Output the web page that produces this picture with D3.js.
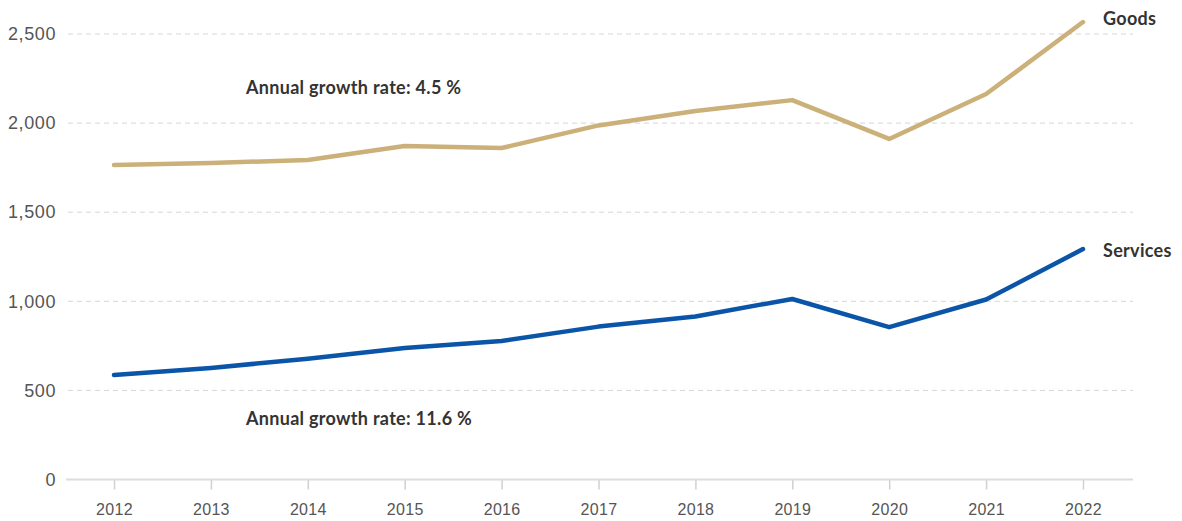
<!DOCTYPE html>
<html>
<head>
<meta charset="utf-8">
<script src="https://cdn.jsdelivr.net/npm/d3@7"></script>
<style>
  body { margin: 0; background: #fff; }
  svg { font-family: Lato, "Open Sans", sans-serif; }
  .grid line { stroke: #d6d6d6; stroke-dasharray: 5,4; }
  .tick text { fill: #555; }
  .lbl { font-weight: bold; fill: #333; font-size: 18px; letter-spacing: 0.3px; }
</style>
</head>
<body>
<svg id="chart" width="1182" height="521"></svg>
<script>
// data
var years = [2012, 2013, 2014, 2015, 2016, 2017, 2018, 2019, 2020, 2021, 2022];
var goods = [1765, 1776, 1793, 1871, 1860, 1987, 2068, 2129, 1911, 2163, 2567];
var services = [586, 626, 678, 738, 777, 858, 915, 1013, 855, 1010, 1293];
var yTicks = [0, 500, 1000, 1500, 2000, 2500];
var goodsNote = 'Annual growth rate: 4.5 %';
var servicesNote = 'Annual growth rate: 11.6 %';

var svg = d3.select('#chart');
var left = 66, right = 1133, bottom = 479.5;

var x = d3.scaleLinear().domain([2012, 2022]).range([114, 1083]);
var y = d3.scaleLinear().domain([0, 2500]).range([bottom, 34]);

// gridlines
var grid = svg.append('g').attr('class', 'grid');
grid.selectAll('line')
  .data(yTicks.filter(function(d) { return d > 0; }))
  .enter().append('line')
  .attr('x1', left + 2).attr('x2', right)
  .attr('y1', function(d) { return y(d); })
  .attr('y2', function(d) { return y(d); });

// y axis labels
var yAxis = d3.axisLeft(y).tickValues(yTicks).tickSize(0).tickPadding(10)
  .tickFormat(d3.format(','));
var yg = svg.append('g')
  .attr('transform', 'translate(' + left + ',0)')
  .call(yAxis);
yg.select('.domain').remove();
yg.selectAll('.tick text')
  .attr('font-size', '18px')
  .style('letter-spacing', '0.6px');

// x axis
var xAxis = d3.axisBottom(x).tickValues(years).tickSize(10).tickPadding(14)
  .tickFormat(d3.format('d'));
var xg = svg.append('g')
  .attr('transform', 'translate(0,' + bottom + ')')
  .call(xAxis);
xg.select('.domain').remove();
xg.selectAll('.tick line').attr('stroke', '#d0d0d0').attr('stroke-width', 1.5);
xg.selectAll('.tick text')
  .attr('font-size', '16px')
  .style('letter-spacing', '0.3px');
xg.append('line')
  .attr('x1', left).attr('x2', right)
  .attr('stroke', '#dcdcdc').attr('stroke-width', 2);

// lines
var line = d3.line()
  .x(function(d, i) { return x(years[i]); })
  .y(function(d) { return y(d); });

svg.append('path')
  .datum(goods)
  .attr('d', line)
  .attr('fill', 'none')
  .attr('stroke', '#CBB07A')
  .attr('stroke-width', 4.5)
  .attr('stroke-linecap', 'round')
  .attr('stroke-linejoin', 'round');

svg.append('path')
  .datum(services)
  .attr('d', line)
  .attr('fill', 'none')
  .attr('stroke', '#0B55A8')
  .attr('stroke-width', 4.5)
  .attr('stroke-linecap', 'round')
  .attr('stroke-linejoin', 'round');

// series labels
svg.append('text').attr('class', 'lbl')
  .attr('x', x(2022) + 20).attr('y', y(goods[10]) - 3)
  .attr('dy', '0.35em').text('Goods');
svg.append('text').attr('class', 'lbl')
  .attr('x', x(2022) + 20).attr('y', y(services[10]) + 2)
  .attr('dy', '0.35em').text('Services');

// notes
svg.append('text').attr('class', 'lbl')
  .attr('x', 246).attr('y', 94).text(goodsNote);
svg.append('text').attr('class', 'lbl')
  .attr('x', 246).attr('y', 425).text(servicesNote);
</script>
</body>
</html>
